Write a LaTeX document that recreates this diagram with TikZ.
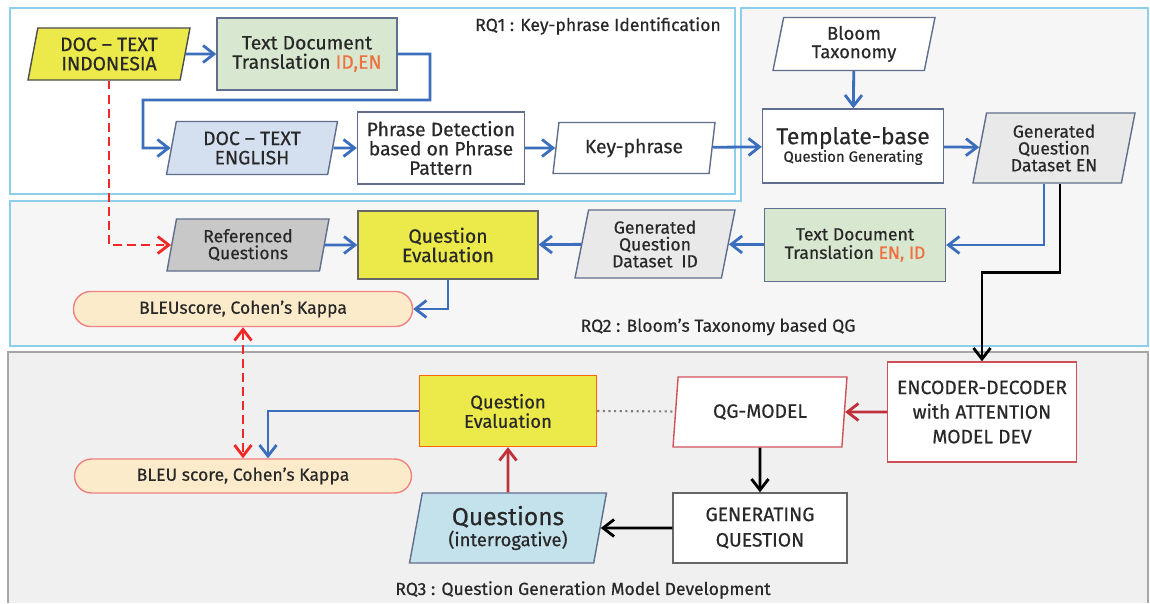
\documentclass[tikz,border=0pt]{standalone}
\usepackage{fontspec}
\setmainfont{Fira Sans}[FakeBold=0.45]
\usepackage{tikz}
\usetikzlibrary{shapes.geometric,arrows.meta,calc}

\definecolor{rqBlue}{RGB}{140,206,236}
\definecolor{regionGray}{RGB}{246,246,246}
\definecolor{regionDark}{RGB}{240,240,240}
\definecolor{boxLine}{RGB}{95,110,140}
\definecolor{docYellow}{RGB}{236,233,74}
\definecolor{transGreen}{RGB}{216,231,208}
\definecolor{engBlue}{RGB}{212,223,240}
\definecolor{refGray}{RGB}{200,200,200}
\definecolor{genGray}{RGB}{233,233,233}
\definecolor{scorePeach}{RGB}{251,235,202}
\definecolor{scoreLine}{RGB}{240,130,130}
\definecolor{questBlue}{RGB}{196,226,236}
\definecolor{modelRed}{RGB}{208,80,90}
\definecolor{flowBlue}{RGB}{60,110,190}
\definecolor{flowRed}{RGB}{192,48,58}
\definecolor{dashRed}{RGB}{240,40,40}
\definecolor{langOrange}{RGB}{240,112,64}
\definecolor{inkGray}{RGB}{40,40,40}

\tikzset{
  box/.style={draw=boxLine, line width=0.8pt, fill=white, align=center, inner sep=1pt,
    text=inkGray, font=\fontsize{11}{11}\selectfont},
  slanted/.style={box, trapezium, trapezium left angle=75, trapezium right angle=105,
    trapezium stretches body},
  score/.style={draw=scoreLine, fill=scorePeach, line width=0.8pt, rounded corners=0.34cm,
    text=inkGray, font=\fontsize{10}{10}\selectfont},
  rqlabel/.style={text=inkGray, font=\fontsize{10}{10}\selectfont},
  flow/.style={->, draw=flowBlue, line width=1.6pt},
  blackflow/.style={->, draw=black, line width=1.6pt},
  redflow/.style={->, draw=flowRed, line width=1.6pt},
  refflow/.style={draw=dashRed, line width=1.6pt, dash pattern=on 5pt off 3pt}
}

\begin{document}
\begin{tikzpicture}[x=0.02cm,y=-0.02cm,>={Straight Barb[length=2.2mm,width=3.4mm]}]
  \useasboundingbox (0,0) rectangle (1150,603);

  % draw the research regions
  \filldraw[fill=regionGray, draw=rqBlue, line width=1.5pt]
    (741,8) -- (1148,8) -- (1148,346) -- (10,346) -- (10,201) -- (741,201) -- cycle;
  \filldraw[fill=white, draw=rqBlue, line width=1.5pt] (10,8) rectangle (735,194);
  \fill[regionDark] (8,352) rectangle (1148,603);
  \draw[gray!70, line width=1.2pt] (8,603) -- (8,352) -- (1148,352) -- (1148,603);

  \node[rqlabel] (rqone) at (598,26) {RQ1 : Key-phrase Identification};
  \node[rqlabel] (rqtwo) at (718,327) {RQ2 : Bloom’s Taxonomy based QG};
  \node[rqlabel] (rqthree) at (583,590) {RQ3 : Question Generation Model Development};

  % RQ1 nodes
  \node[slanted, fill=docYellow, draw=black!70, minimum width=3.24cm, minimum height=1.04cm]
    (docid) at (109,54) {DOC – TEXT\\INDONESIA};
  \node[box, fill=transGreen, minimum width=3.6cm, minimum height=1.44cm]
    (trid) at (307,54) {Text Document\\Translation \textcolor{langOrange}{ID,EN}};
  \node[slanted, fill=engBlue, minimum width=3.42cm, minimum height=1.06cm]
    (docen) at (252,148) {DOC – TEXT\\ENGLISH};
  \node[box, minimum width=3.34cm, minimum height=1.44cm]
    (phrase) at (441,148) {Phrase Detection\\based on Phrase\\Pattern};
  \node[slanted, minimum width=3.24cm, minimum height=1.02cm]
    (keyph) at (634,148) {Key-phrase};

  % RQ2 nodes
  \node[slanted, minimum width=3.24cm, minimum height=1.06cm, font=\fontsize{10.5}{10.5}\selectfont]
    (bloom) at (854,44) {Bloom\\Taxonomy};
  \node[box, minimum width=3.62cm, minimum height=1.48cm]
    (tmpl) at (853,146) {{\fontsize{13}{14}\selectfont Template-base}\\[-1pt]{\fontsize{8.5}{9}\selectfont Question Generating}};
  \node[slanted, fill=genGray, minimum width=3.24cm, minimum height=1.4cm, font=\fontsize{10}{9.6}\selectfont]
    (genen) at (1054,148) {Generated\\Question\\Dataset EN};
  \node[box, fill=transGreen, minimum width=3.62cm, minimum height=1.46cm, font=\fontsize{10}{10.5}\selectfont]
    (trde) at (855,245) {Text Document\\Translation \textcolor{langOrange}{EN, ID}};
  \node[slanted, fill=genGray, minimum width=3.2cm, minimum height=1.36cm, font=\fontsize{10}{9.6}\selectfont]
    (genid) at (655,244) {Generated\\Question\\Dataset\enspace ID};
  \node[box, fill=docYellow, draw=black!60, minimum width=3.6cm, minimum height=1.36cm]
    (qeval) at (448,245) {Question\\Evaluation};
  \node[slanted, fill=refGray, minimum width=3.24cm, minimum height=1.04cm, font=\fontsize{10}{9.6}\selectfont]
    (refq) at (248,245) {Referenced\\Questions};
  \node[score, minimum width=6.78cm, minimum height=0.7cm]
    (bleuone) at (243,309) {BLEUscore, Cohen’s Kappa};

  % RQ3 nodes
  \node[box, draw=modelRed, minimum width=3.78cm, minimum height=2cm, font=\fontsize{11}{14}\selectfont]
    (encdec) at (982,412) {ENCODER-DECODER\\with ATTENTION\\MODEL DEV};
  \node[slanted, draw=modelRed, minimum width=3.48cm, minimum height=1.4cm]
    (qgmodel) at (760,412) {QG-MODEL};
  \node[box, fill=docYellow, draw=orange!80!red, minimum width=3.54cm, minimum height=1.42cm, font=\fontsize{10.5}{11}\selectfont]
    (qevalm) at (508,411) {Question\\Evaluation};
  \node[score, minimum width=6.74cm, minimum height=0.68cm]
    (bleutwo) at (243,476) {BLEU score, Cohen’s Kappa};
  \node[box, draw=black!60, minimum width=3.48cm, minimum height=1.4cm, font=\fontsize{11}{14.5}\selectfont]
    (genq) at (760,528) {GENERATING\\QUESTION};
  \node[slanted, fill=questBlue, minimum width=3.94cm, minimum height=1.4cm]
    (quest) at (508,528) {{\fontsize{14}{16}\selectfont Questions}\\[1pt]{\fontsize{10.5}{11}\selectfont (interrogative)}};

  % draw the RQ1 flow
  \draw[flow] (docid) -- (trid);
  \draw[flow] (trid.east) -| (430,100) -| (143,148) -- (docen);
  \draw[flow] (docen) -- (phrase);
  \draw[flow] (phrase) -- (keyph);
  \draw[flow] (keyph) -- (tmpl);

  % draw the RQ2 flow
  \draw[flow] (bloom) -- (tmpl);
  \draw[flow] (tmpl) -- (genen);
  \draw[flow] ([xshift=-0.2cm]genen.south) |- (trde.east);
  \draw[flow] (trde) -- (genid);
  \draw[flow] (genid) -- (qeval);
  \draw[flow] (refq) -- (qeval);
  \draw[flow] (qeval.south) |- (bleuone.east);
  \draw[refflow, ->] (docid.south) |- (refq.west);
  \draw[refflow, <->] (bleuone.south) -- (bleutwo.north);

  % draw the RQ3 flow
  \draw[blackflow] ([xshift=0.12cm]genen.south) -- ++(0,89) -| (encdec.north);
  \draw[redflow] (encdec) -- (qgmodel);
  \draw[blackflow] (qgmodel) -- (genq);
  \draw[blackflow] (genq) -- (quest);
  \draw[redflow] (quest) -- (qevalm);
  \draw[gray, line width=1.2pt, dotted] (qevalm.east) -- (qgmodel);
  \draw[flow] (qevalm.west) -| ([xshift=0.5cm]bleutwo.north);
\end{tikzpicture}
\end{document}
